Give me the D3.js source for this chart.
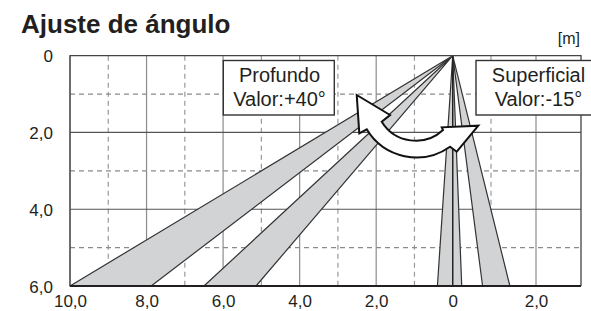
<!DOCTYPE html>
<html><head><meta charset="utf-8">
<script src="https://cdn.jsdelivr.net/npm/d3@7"></script>
<style>
html,body{margin:0;padding:0;background:#fff;}
svg{display:block;font-family:"Liberation Sans",Arial,sans-serif;}
</style></head>
<body><svg id="c" width="591" height="311"></svg>
<script>
// ---- data ----
const title = "Ajuste de ángulo";
const unitLabel = "[m]";
const xTickValues = [10, 8, 6, 4, 2, 0, -2];
const xTickLabels = ["10,0", "8,0", "6,0", "4,0", "2,0", "0", "2,0"];
const xMinorValues = [9, 7, 5, 3, 1, -1];
const yTickValues = [0, 2, 4, 6];
const yTickLabels = ["0", "2,0", "4,0", "6,0"];
const yMinorValues = [1, 3, 5];
// beams: origin (0,0) to bottom edge (depth 6) between two horizontal distances
const beamNames = ["deep1", "deep2", "shallow1", "shallow2"];
const beamFrom = [10.0, 6.5, 0.40, -0.78];
const beamTo = [7.88, 5.14, -0.235, -1.42];
const beamDepth = 6;
const centerLine = [[0, 0], [0, 6]];
const labelTexts = [["Profundo", "Valor:+40°"], ["Superficial", "Valor:-15°"]];
// curved double arrow outline (data units)
const arrowPts = {
  tipL: [2.508, 1.024], wingInL: [1.638, 1.545], notchInL: [1.855, 1.720],
  notchInR: [0.253, 1.936], wingInR: [0.287, 1.866], tipR: [-0.669, 1.824],
  wingOutR: [-0.105, 2.501], notchOutR: [0.071, 2.371], notchOutL: [2.247, 1.918],
  wingOutL: [2.441, 2.022]
};
const arrowRadii = [1.045, 1.515];

// ---- drawing ----
const svg = d3.select("#c");
const x = d3.scaleLinear().domain([10, -1, -3]).range([70, 491, 581]);
const y = d3.scaleLinear().domain([0, 6]).range([55.7, 286]);
const textCol = "#231f20";

svg.append("text").attr("x", 21).attr("y", 32.5)
  .attr("font-size", 26).attr("font-weight", "bold").attr("fill", textCol).text(title);
svg.append("text").attr("x", 580).attr("y", 43.5).attr("text-anchor", "end")
  .attr("font-size", 16).attr("fill", textCol).text(unitLabel);

const g = svg.append("g");
// grid
g.selectAll("line.vmaj").data(xTickValues).join("line")
  .attr("x1", d => x(d)).attr("x2", d => x(d)).attr("y1", y(0)).attr("y2", y(6))
  .attr("stroke", "#8c8c8c").attr("stroke-width", 1.2);
g.selectAll("line.vmin").data(xMinorValues).join("line")
  .attr("x1", d => x(d)).attr("x2", d => x(d)).attr("y1", y(0)).attr("y2", y(6))
  .attr("stroke", "#9a9a9a").attr("stroke-width", 1.2).attr("stroke-dasharray", "5,4");
g.selectAll("line.hmaj").data([2, 4]).join("line")
  .attr("x1", x(10)).attr("x2", x(-3)).attr("y1", d => y(d)).attr("y2", d => y(d))
  .attr("stroke", "#555").attr("stroke-width", 1.2);
g.selectAll("line.hmin").data(yMinorValues).join("line")
  .attr("x1", x(10)).attr("x2", x(-3)).attr("y1", d => y(d)).attr("y2", d => y(d))
  .attr("stroke", "#8a8a8a").attr("stroke-width", 1.2).attr("stroke-dasharray", "5,4");

// beams
const beams = beamNames.map((n, i) => [[0, 0], [beamFrom[i], beamDepth], [beamTo[i], beamDepth]]);
g.selectAll("path.beam").data(beams).join("path")
  .attr("d", d => "M" + d.map(p => [x(p[0]), y(p[1])].join(",")).join("L") + "Z")
  .attr("fill", "#d2d3d4").attr("stroke", "#333").attr("stroke-width", 1.2)
  .attr("stroke-linejoin", "round");
g.append("line").attr("x1", x(centerLine[0][0])).attr("y1", y(centerLine[0][1]))
  .attr("x2", x(centerLine[1][0])).attr("y2", y(centerLine[1][1]))
  .attr("stroke", "#222").attr("stroke-width", 1.5);

// frame
g.append("path").attr("d", `M${x(10)},${y(6)}V${y(0)}H${x(-3)}V${y(6)}`)
  .attr("fill", "none").attr("stroke", "#444").attr("stroke-width", 1.3);
g.append("line").attr("x1", x(10)).attr("x2", x(-3)).attr("y1", y(6)).attr("y2", y(6))
  .attr("stroke", "#231f20").attr("stroke-width", 2.2);

// axes
const yAxis = d3.axisLeft(y).tickValues(yTickValues).tickSize(0).tickPadding(0)
  .tickFormat((d, i) => yTickLabels[i]);
const ya = svg.append("g").attr("transform", "translate(53,0)").call(yAxis);
ya.select(".domain").remove();
ya.selectAll("text").attr("font-size", 17).attr("fill", textCol)
  .attr("font-family", "Liberation Sans, Arial, sans-serif").attr("dy", "0.36em");

const xAxis = d3.axisBottom(x).tickValues(xTickValues).tickSize(0).tickPadding(0)
  .tickFormat((d, i) => xTickLabels[i]);
const xa = svg.append("g").attr("transform", "translate(0,294.5)").call(xAxis);
xa.select(".domain").remove();
xa.selectAll("text").attr("font-size", 17).attr("fill", textCol)
  .attr("font-family", "Liberation Sans, Arial, sans-serif").attr("dy", "0.71em");

// label boxes
const boxes = [
  {x0: 223.3, x1: 334.3, y0: 60.5, y1: 115, cx: 279.5, t: labelTexts[0]},
  {x0: 476, x1: 602, y0: 60.5, y1: 115, cx: 538.5, t: labelTexts[1]}
];
boxes.forEach(b => {
  svg.append("rect").attr("x", b.x0).attr("y", b.y0).attr("width", b.x1 - b.x0)
    .attr("height", b.y1 - b.y0).attr("fill", "#fff").attr("stroke", "#333").attr("stroke-width", 1.4);
  b.t.forEach((s, i) => svg.append("text").attr("x", b.cx).attr("y", 82 + i * 24)
    .attr("text-anchor", "middle").attr("font-size", 20).attr("fill", textCol).text(s));
});

// curved double arrow
const P = k => [x(arrowPts[k][0]), y(arrowPts[k][1])];
const rIn = x(0) - x(arrowRadii[0]), rOut = x(0) - x(arrowRadii[1]);
const ad = `M${P("tipL")}L${P("wingInL")}L${P("notchInL")}` +
  `A${rIn},${rIn} 0 0 0 ${P("notchInR")}` +
  `L${P("wingInR")}L${P("tipR")}L${P("wingOutR")}L${P("notchOutR")}` +
  `A${rOut},${rOut} 0 0 1 ${P("notchOutL")}` +
  `L${P("wingOutL")}Z`;
svg.append("path").attr("d", ad).attr("fill", "#fff").attr("stroke", "#111")
  .attr("stroke-width", 2).attr("stroke-linejoin", "miter");
</script></body></html>
